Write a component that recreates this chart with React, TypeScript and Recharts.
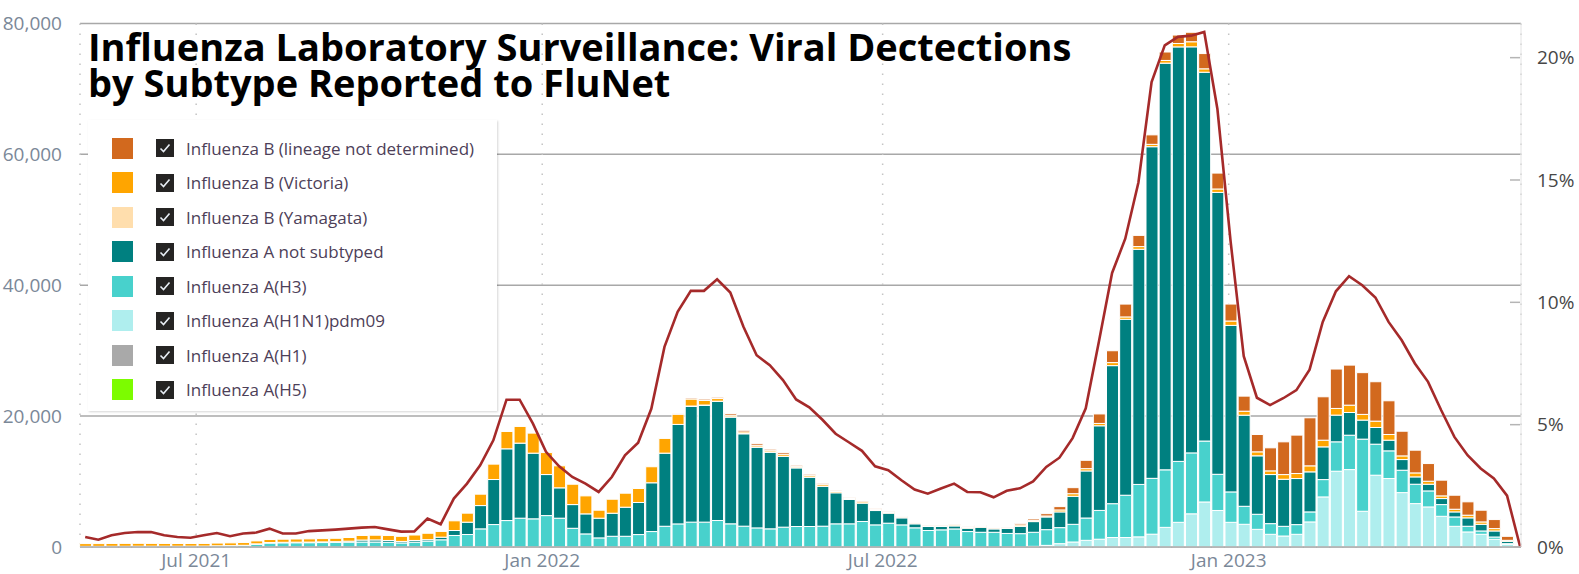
import React from 'react';
import { ComposedChart, Bar, Line, XAxis, YAxis, CartesianGrid } from 'recharts';

// weekly categories, first week starting 3 May 2021 (index 109 = last week, no detections)
const START = Date.UTC(2021, 4, 3);
const WEEK_MS = 7 * 864e5;
const WEEKS = Array.from({ length: 110 }, (_, i) => new Date(START + i * WEEK_MS).toISOString().slice(0, 10));

const TICK_DATES = ['2021-07-01', '2022-01-01', '2022-07-01', '2023-01-01'];
const TICK_LABELS = ['Jul 2021', 'Jan 2022', 'Jul 2022', 'Jan 2023'];
const TICK_POS = TICK_DATES.map((d) => (Date.parse(d) - START) / WEEK_MS);

const LEFT_TICKS = [0, 20000, 40000, 60000, 80000];
const RIGHT_TICKS = [0, 5, 10, 15, 20];

const TITLE_LINES = ['Influenza Laboratory Surveillance: Viral Dectections', 'by Subtype Reported to FluNet'];

// detections per week, by subtype
const H1N1PDM09 = [
  0, 0, 0, 0, 0, 0, 0, 0, 0, 0,
  0, 0, 0, 0, 0, 0, 0, 0, 0, 0,
  0, 0, 0, 0, 0, 0, 0, 0, 0, 0,
  0, 0, 0, 0, 0, 0, 0, 0, 0, 0,
  0, 0, 0, 0, 0, 0, 0, 0, 0, 0,
  0, 0, 0, 0, 0, 0, 0, 0, 0, 0,
  0, 0, 0, 0, 0, 0, 0, 0, 0, 0,
  0, 0, 100, 250, 510, 765, 1020, 1190, 1450, 1450,
  1550, 1960, 3000, 3770, 5070, 6880, 5580, 3770, 3470, 2700,
  1940, 1680, 1940, 3830, 7650, 11580, 11830, 5460, 10970, 10460,
  8310, 6630, 6120, 4690, 3160, 2300, 1940, 1170, 410,
];
const H3 = [
  100, 100, 110, 110, 120, 120, 120, 120, 130, 140,
  180, 200, 260, 420, 600, 640, 650, 660, 680, 700,
  740, 760, 760, 720, 620, 740, 900, 1100, 1760, 1910,
  2770, 3430, 4040, 4400, 4300, 4800, 4400, 2860, 2000, 1390,
  1640, 1640, 1900, 2360, 3170, 3530, 3800, 3800, 4050, 3540,
  3180, 2920, 2770, 3030, 3130, 3130, 3180, 3540, 3540, 3900,
  3380, 3640, 3380, 2930, 2520, 2620, 2760, 2360, 2250, 2250,
  2070, 2040, 2150, 2400, 2450, 2700, 3410, 4400, 5170, 6460,
  8010, 8530, 8790, 9310, 9310, 9310, 5530, 4650, 2750, 2300,
  1630, 1480, 1480, 1530, 2650, 4490, 5250, 11020, 4740, 4230,
  3420, 2960, 2450, 1790, 1430, 870, 510, 360, 100,
];
const A_NOT_SUBTYPED = [
  0, 0, 0, 0, 0, 0, 0, 0, 0, 0,
  0, 0, 0, 60, 80, 80, 90, 90, 100, 110,
  150, 300, 320, 280, 230, 260, 220, 400, 760, 1880,
  3560, 6880, 10960, 11470, 10040, 6270, 4640, 3620, 3060, 3010,
  3520, 4440, 4900, 7450, 11170, 15200, 17700, 17850, 18200, 16320,
  14120, 12340, 11730, 10810, 8970, 7550, 6070, 4740, 3720, 2800,
  2190, 1530, 1070, 610, 610, 510, 460, 510, 765, 510,
  765, 1120, 1630, 1940, 2400, 4280, 7190, 12930, 21090, 26880,
  35930, 50670, 62140, 63330, 62040, 56350, 43070, 25440, 13920, 8930,
  7500, 7190, 7040, 6120, 5000, 4080, 3470, 2910, 2550, 1630,
  1630, 1120, 1020, 920, 770, 1280, 1020, 920, 360,
];
const B_YAMAGATA = [
  0, 0, 0, 0, 0, 0, 0, 0, 0, 0,
  0, 0, 0, 0, 0, 0, 0, 0, 0, 0,
  0, 0, 0, 0, 0, 0, 0, 0, 0, 0,
  0, 0, 0, 0, 0, 0, 0, 0, 0, 0,
  0, 0, 0, 0, 0, 0, 40, 40, 30, 30,
  30, 30, 20, 30, 20, 20, 30, 0, 0, 0,
  0, 0, 0, 0, 0, 0, 0, 0, 0, 0,
  0, 0, 0, 0, 0, 0, 0, 0, 0, 0,
  0, 0, 0, 0, 0, 0, 0, 0, 0, 0,
  0, 0, 0, 0, 0, 0, 0, 0, 0, 0,
  0, 0, 0, 0, 0, 0, 0, 0, 0,
];
const B_VICTORIA = [
  420, 420, 430, 440, 440, 430, 420, 410, 400, 400,
  420, 430, 420, 450, 460, 470, 480, 490, 500, 520,
  560, 700, 720, 750, 780, 830, 980, 880, 1480, 1380,
  1740, 2350, 2650, 2550, 3060, 3360, 3360, 3110, 2750, 1220,
  2140, 2140, 2140, 2450, 2250, 1560, 1070, 700, 400, 250,
  250, 250, 200, 300, 200, 250, 250, 200, 150, 200,
  150, 100, 100, 100, 100, 100, 150, 100, 120, 120,
  120, 200, 150, 150, 300, 400, 350, 360, 465, 360,
  410, 360, 410, 520, 775, 520, 520, 670, 610, 610,
  560, 715, 765, 920, 1020, 1020, 1120, 870, 970, 870,
  560, 610, 460, 410, 410, 410, 360, 360, 150,
];
const B_NOT_DETERMINED = [
  0, 0, 0, 0, 0, 0, 0, 0, 0, 0,
  0, 0, 0, 0, 0, 0, 0, 0, 0, 0,
  0, 0, 0, 0, 0, 0, 0, 0, 0, 0,
  0, 0, 0, 0, 0, 0, 0, 0, 0, 0,
  0, 0, 0, 0, 0, 80, 150, 200, 200, 250,
  250, 250, 220, 250, 170, 170, 200, 170, 130, 130,
  130, 130, 100, 100, 100, 100, 100, 100, 150, 100,
  100, 180, 250, 350, 510, 920, 1275, 1450, 1810, 1965,
  1710, 1450, 1290, 1290, 1450, 2330, 2430, 2590, 2300, 2650,
  3520, 5000, 5870, 7340, 6630, 6020, 6120, 6380, 6020, 5150,
  3770, 3470, 2700, 2400, 2140, 2040, 1790, 1380, 610,
];
// percent positive (right axis)
const PCT_POSITIVE = [
  0.41, 0.30, 0.48, 0.57, 0.61, 0.61, 0.48, 0.41, 0.38, 0.48,
  0.57, 0.44, 0.55, 0.59, 0.75, 0.55, 0.55, 0.65, 0.68, 0.71,
  0.75, 0.79, 0.82, 0.72, 0.63, 0.64, 1.16, 0.93, 1.98, 2.59,
  3.34, 4.36, 6.02, 6.02, 5.05, 3.89, 3.30, 2.86, 2.59, 2.25,
  2.86, 3.75, 4.26, 5.65, 8.18, 9.61, 10.47, 10.47, 10.94, 10.40,
  9.00, 7.84, 7.43, 6.82, 6.03, 5.71, 5.20, 4.63, 4.28, 3.93,
  3.30, 3.14, 2.73, 2.35, 2.18, 2.39, 2.59, 2.25, 2.24, 2.03,
  2.30, 2.40, 2.68, 3.27, 3.65, 4.45, 5.67, 8.40, 11.20, 12.60,
  14.90, 19.00, 20.50, 20.85, 20.90, 21.05, 17.90, 12.50, 7.80, 6.10,
  5.80, 6.08, 6.41, 7.25, 9.20, 10.45, 11.07, 10.70, 10.20, 9.20,
  8.45, 7.50, 6.75, 5.59, 4.50, 3.75, 3.21, 2.80, 2.10, 0,
];

// stacking order: bottom first
const STACK = [
  { key: 'h1n1', values: H1N1PDM09, color: '#afeeee' },
  { key: 'h3', values: H3, color: '#48d1cc' },
  { key: 'anot', values: A_NOT_SUBTYPED, color: '#008080' },
  { key: 'byam', values: B_YAMAGATA, color: '#ffdead' },
  { key: 'bvic', values: B_VICTORIA, color: '#ffa500' },
  { key: 'bnd', values: B_NOT_DETERMINED, color: '#d2691e' },
];

const LEGEND = [
  { name: 'Influenza B (lineage not determined)', color: '#d2691e' },
  { name: 'Influenza B (Victoria)', color: '#ffa500' },
  { name: 'Influenza B (Yamagata)', color: '#ffdead' },
  { name: 'Influenza A not subtyped', color: '#008080' },
  { name: 'Influenza A(H3)', color: '#48d1cc' },
  { name: 'Influenza A(H1N1)pdm09', color: '#afeeee' },
  { name: 'Influenza A(H1)', color: '#a9a9a9' },
  { name: 'Influenza A(H5)', color: '#7cfc00' },
];

const data = WEEKS.map((week, i) => {
  const row: Record<string, number | string | undefined> = { idx: i, week, pct: PCT_POSITIVE[i] };
  STACK.forEach((s) => { row[s.key] = s.values[i]; });
  return row;
});

const FONT = "'Open Sans', sans-serif";
const AXIS_TEXT = '#7b8898';

const RightTick = ({ x, y, payload }: any) => (
  <g>
    <line x1={x - 27} x2={x - 17} y1={y} y2={y} stroke="#b5b5b5" strokeWidth={1.5} />
    <text x={x} y={y} dy="0.35em" fill="#474747" fontSize={19} fontFamily={FONT}>
      {payload.value}%
    </text>
  </g>
);

const CheckBox = () => (
  <svg width={18} height={18} style={{ display: 'block' }}>
    <rect x={0} y={0} width={18} height={18} fill="#252423" />
    <path d="M4.5 9.5 L7.5 12.5 L13.5 5.5" stroke="#e8eef5" strokeWidth={1.6} fill="none" />
  </svg>
);

export default function App() {
  return (
    <div style={{ position: 'absolute', left: 0, top: 0, width: 1579, height: 574, background: '#fff', fontFamily: FONT, overflow: 'hidden' }}>
      <ComposedChart
        width={1579}
        height={574}
        data={data}
        margin={{ top: 23.4, right: 0, bottom: 0, left: 0 }}
        style={{ position: 'absolute', left: 0, top: 0 }}
      >
        <CartesianGrid yAxisId="left" vertical={false} stroke="#a8a8a8" strokeWidth={1.5} />
        <CartesianGrid yAxisId="left" horizontal={false} stroke="#c4c4c4" strokeWidth={1.5} strokeDasharray="1.5 8.5" />
        <XAxis
          dataKey="idx"
          type="number"
          domain={[-0.395, 109.06]}
          ticks={TICK_POS}
          interval={0}
          tickFormatter={(v: number) => TICK_LABELS[TICK_POS.indexOf(v)]}
          height={27}
          tickSize={0}
          tickMargin={7}
          axisLine={{ stroke: '#a8a8a8', strokeWidth: 1.5 }}
          tick={{ fill: AXIS_TEXT, fontSize: 19, fontFamily: FONT }}
        />
        <YAxis
          yAxisId="left"
          orientation="left"
          domain={[0, 80000]}
          ticks={LEFT_TICKS}
          width={80}
          tickSize={0}
          tickMargin={18}
          axisLine={false}
          tickFormatter={(v: number) => v.toLocaleString('en-US')}
          tick={{ fill: AXIS_TEXT, fontSize: 19, fontFamily: FONT }}
        />
        <YAxis
          yAxisId="right"
          orientation="right"
          domain={[0, 21.4]}
          ticks={RIGHT_TICKS}
          width={58}
          tickSize={0}
          tickMargin={16}
          axisLine={{ stroke: '#e4e4e4' }}
          tick={<RightTick />}
        />
        {STACK.map((s) => (
          <Bar
            key={s.key}
            yAxisId="left"
            dataKey={s.key}
            stackId="det"
            fill={s.color}
            stroke="#ffffff"
            strokeWidth={1}
            barSize={12}
            isAnimationActive={false}
          />
        ))}
        <Line
          yAxisId="right"
          dataKey="pct"
          type="linear"
          stroke="#a52a2a"
          strokeWidth={2.6}
          dot={false}
          activeDot={false}
          isAnimationActive={false}
        />
      </ComposedChart>

      {/* Title, one block per line */}
      {TITLE_LINES.map((line, i) => (
        <div
          key={line}
          style={{ position: 'absolute', left: 88, top: 28 + i * 36, height: 36, fontSize: 38, fontWeight: 700, lineHeight: '36px', color: '#000', whiteSpace: 'nowrap' }}
        >
          {line}
        </div>
      ))}

      {/* Legend */}
      <div style={{ position: 'absolute', left: 88, top: 120, width: 409, height: 291, background: '#fff', boxShadow: '1px 1px 2px rgba(0,0,0,0.16)', boxSizing: 'border-box', paddingTop: 11 }}>
        {LEGEND.map((item) => (
          <div key={item.name} style={{ display: 'flex', alignItems: 'center', height: 34.5 }}>
            <div style={{ marginLeft: 23.5, width: 21, height: 21, background: item.color }} />
            <div style={{ marginLeft: 23.5 }}><CheckBox /></div>
            <div style={{ marginLeft: 12, fontSize: 17, color: '#4d4058', whiteSpace: 'nowrap' }}>{item.name}</div>
          </div>
        ))}
      </div>
    </div>
  );
}
